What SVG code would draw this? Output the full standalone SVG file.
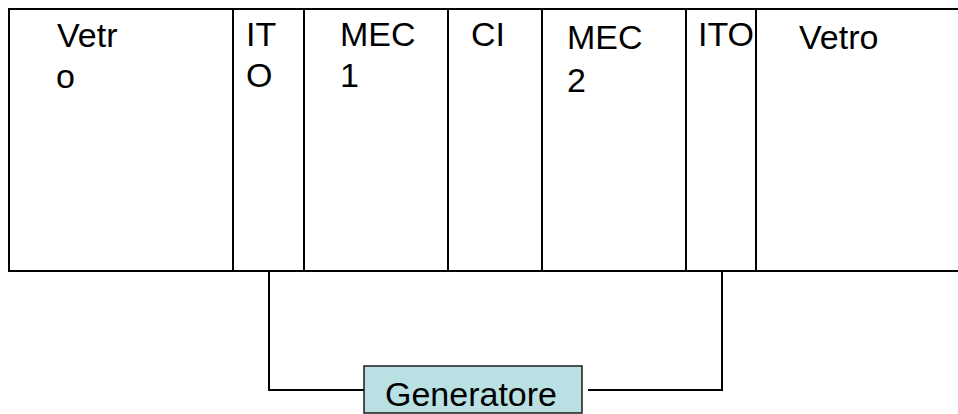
<svg xmlns="http://www.w3.org/2000/svg" width="958" height="414" viewBox="0 0 958 414">
  <style>
    .cell { fill: none; stroke: #000; stroke-width: 2; }
    .lbl { font-family: "Liberation Sans", Arial, sans-serif; font-size: 34px; fill: #000; }
    .wire { fill: none; stroke: #000; stroke-width: 2; }
    .gen { fill: #b9e0e3; stroke: #1a1a1a; stroke-width: 1.5; }
  </style>
  <rect width="958" height="414" fill="#fff"/>
  <g id="vetro-left">
    <path class="cell" d="M233,9 H9 V271 H233"/>
    <text class="lbl" x="57" y="47">Vetr</text>
    <text class="lbl" x="56" y="88">o</text>
  </g>
  <g id="ito-left">
    <path class="cell" d="M233,9 H304 V271 H233 Z"/>
    <text class="lbl" x="246" y="46">IT</text>
    <text class="lbl" x="246" y="87">O</text>
  </g>
  <g id="mec1">
    <path class="cell" d="M304,9 H448 V271 H304"/>
    <text class="lbl" x="340" y="46">MEC</text>
    <text class="lbl" x="340" y="87">1</text>
  </g>
  <g id="ci">
    <path class="cell" d="M448,9 H542 V271 H448"/>
    <text class="lbl" x="471" y="46">CI</text>
  </g>
  <g id="mec2">
    <path class="cell" d="M542,9 H686 V271 H542"/>
    <text class="lbl" x="567" y="49">MEC</text>
    <text class="lbl" x="567" y="92">2</text>
  </g>
  <g id="ito-right">
    <path class="cell" d="M686,9 H756 V271 H686"/>
    <text class="lbl" x="698" y="46">ITO</text>
  </g>
  <g id="vetro-right">
    <path class="cell" d="M756,9 H960 M756,271 H960"/>
    <text class="lbl" x="799" y="49">Vetro</text>
  </g>
  <g id="generatore">
    <rect class="gen" x="364" y="366" width="218" height="47"/>
    <text class="lbl" x="385" y="406" font-size="33">Generatore</text>
  </g>
  <g id="connectors">
    <path class="wire" d="M269,271 V390 H364"/>
    <path class="wire" d="M588,390 H722 V271"/>
  </g>
</svg>
